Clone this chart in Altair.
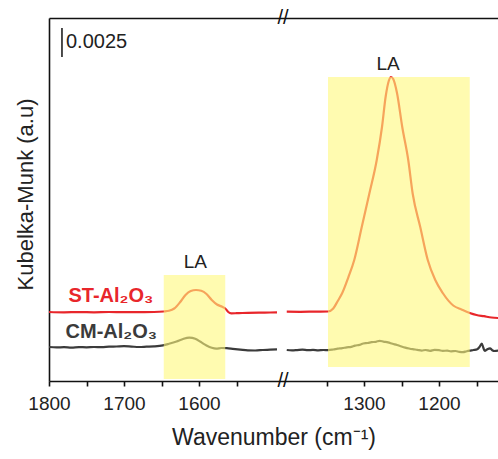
import altair as alt
import pandas as pd

FONT = "Liberation Sans"

# ---------------- data (wavenumber cm-1, Kubelka-Munk a.u.) ----------------
st_left_w = [1800, 1780, 1760, 1740, 1720, 1700, 1680, 1660, 1647, 1640, 1633, 1625, 1618,
             1611, 1604, 1597, 1590, 1583, 1576, 1569, 1565, 1561, 1557, 1550, 1535, 1520,
             1505, 1496]
st_left_y = [0.005948, 0.005922, 0.005940, 0.005922, 0.005948, 0.005931, 0.005940, 0.005948,
             0.005991, 0.006052, 0.006250, 0.006810, 0.007414, 0.007759, 0.007845, 0.007776,
             0.007500, 0.006983, 0.006595, 0.006397, 0.006250, 0.005948, 0.005836, 0.005845,
             0.005879, 0.005897, 0.005905, 0.005914]

st_right_w = [1403, 1385, 1365, 1348, 1341, 1335, 1329, 1321, 1313, 1303, 1293, 1283, 1276,
              1271, 1267, 1264, 1261, 1256, 1249, 1241, 1235, 1225, 1215, 1205, 1195, 1181,
              1170, 1159, 1150, 1140, 1130, 1121]
st_right_y = [0.005974, 0.005966, 0.005983, 0.005991, 0.006250, 0.006897, 0.007586, 0.008922,
              0.010431, 0.013276, 0.016121, 0.019052, 0.021897, 0.024569, 0.025862, 0.026207,
              0.026034, 0.024828, 0.021897, 0.019052, 0.016121, 0.013276, 0.010431, 0.008707,
              0.007586, 0.006509, 0.006164, 0.005862, 0.005690, 0.005586, 0.005474, 0.005431]

cm_left_w = [1800, 1790, 1780, 1770, 1760, 1750, 1740, 1730, 1720, 1710, 1700, 1690, 1680,
             1670, 1660, 1648, 1640, 1630, 1622, 1613, 1605, 1598, 1590, 1583, 1577, 1570,
             1563, 1555, 1545, 1535, 1525, 1515, 1505, 1496]
cm_left_y = [0.002931, 0.002897, 0.002914, 0.002879, 0.002922, 0.002905, 0.002931, 0.002914,
             0.002957, 0.002974, 0.003000, 0.002966, 0.002931, 0.002957, 0.002983, 0.003069,
             0.003207, 0.003405, 0.003603, 0.003741, 0.003638, 0.003379, 0.003060, 0.002862,
             0.002793, 0.002845, 0.002828, 0.002776, 0.002707, 0.002638, 0.002629, 0.002672,
             0.002707, 0.002724]

cm_right_w = [1403, 1396, 1389, 1382, 1375, 1368, 1361, 1354, 1348, 1341, 1335, 1329, 1323,
              1317, 1312, 1306, 1301, 1295, 1290, 1284, 1279, 1274, 1268, 1262, 1256, 1250,
              1245, 1240, 1235, 1229, 1223, 1218, 1212, 1206, 1200, 1195, 1189, 1184, 1178,
              1173, 1168, 1163, 1159, 1154, 1149, 1146, 1143, 1141, 1139, 1136, 1132, 1129,
              1126, 1121]
cm_right_y = [0.002672, 0.002638, 0.002664, 0.002698, 0.002655, 0.002681, 0.002647, 0.002672,
              0.002664, 0.002716, 0.002784, 0.002828, 0.002905, 0.002948, 0.003052, 0.003112,
              0.003233, 0.003276, 0.003345, 0.003379, 0.003466, 0.003397, 0.003328, 0.003207,
              0.003103, 0.002974, 0.002879, 0.002802, 0.002741, 0.002690, 0.002621, 0.002672,
              0.002603, 0.002681, 0.002655, 0.002595, 0.002621, 0.002560, 0.002586, 0.002517,
              0.002483, 0.002569, 0.002621, 0.002672, 0.002741, 0.002931, 0.003233, 0.002888,
              0.002586, 0.002716, 0.002819, 0.002655, 0.002586, 0.002621]

# highlighted "LA" regions
box_w1 = [1647, 1348]
box_w2 = [1565, 1159]
box_y1 = [0.000172, 0.001207]
box_y2 = [0.009138, 0.026207]

# axis ticks (left window / right window)
ticks_left = [1800, 1750, 1700, 1650, 1600, 1550]
ticks_right = [1350, 1300, 1250, 1200, 1150]

# annotations
la_w = [1605, 1268]
la_y = [0.010259, 0.027328]
series_names = ["ST-Al\u2082O\u2083", "CM-Al\u2082O\u2083"]
series_label_w = [1661, 1656]
series_label_y = [0.00681, 0.003707]
scalebar_w = [1782.7]
scalebar_y1 = [0.027931]
scalebar_y2 = [0.030431]
scalebar_text = ["0.0025"]
break_w = [1488, 1488]
break_y = [0.0, 0.031293]

# ---------------- broken-axis mapping ----------------
SHIFT = 80          # cm-1 removed between the two windows
SPLIT = 1450
u_expr = f"datum.w >= {SPLIT} ? datum.w : datum.w + {SHIFT}"
tick_u = ticks_left + [t + SHIFT for t in ticks_right]
label_expr = (f"datum.value > {SPLIT} ? (datum.value % 100 === 0 ? format(datum.value, 'd') : '') : "
              f"((datum.value - {SHIFT}) % 100 === 0 ? format(datum.value - {SHIFT}, 'd') : '')")

rows = []
for name, seg, ws, ys in [("ST", "L", st_left_w, st_left_y), ("ST", "R", st_right_w, st_right_y),
                          ("CM", "L", cm_left_w, cm_left_y), ("CM", "R", cm_right_w, cm_right_y)]:
    for w, y in zip(ws, ys):
        rows.append({"w": w, "km": y, "series": name, "seg": name + seg})
lines_df = pd.DataFrame(rows)

boxes_df = pd.DataFrame({"w1": box_w1, "w2": box_w2, "y1": box_y1, "y2": box_y2})
la_df = pd.DataFrame({"w": la_w, "km": la_y, "t": ["LA", "LA"]})
names_df = pd.DataFrame({"w": series_label_w, "km": series_label_y, "t": series_names,
                         "series": ["ST", "CM"]})
bar_df = pd.DataFrame({"w": scalebar_w, "y1": scalebar_y1, "y2": scalebar_y2, "t": scalebar_text})
break_df = pd.DataFrame({"w": break_w, "km": break_y})

W, H = 449, 363
UMIN = 1800 - W / 0.75
x_scale = alt.Scale(domain=[UMIN, 1800], reverse=True, nice=False, zero=False)
y_scale = alt.Scale(domain=[0, 0.031293], nice=False, zero=False)
color_scale = alt.Scale(domain=["ST", "CM"], range=["#e8262b", "#3b3b3b"])

x_axis = alt.Axis(values=tick_u, labelExpr=label_expr, title="Wavenumber (cm\u207b\u00b9)",
                  grid=False, domainColor="#111", domainWidth=1.6, tickColor="#111",
                  tickWidth=1.6, tickSize=5, labelFontSize=19, labelColor="#222",
                  labelFont=FONT, labelPadding=8, labelFlush=False, labelOverlap=False,
                  titleFont=FONT, titleFontSize=23,
                  titleFontWeight="normal", titleColor="#222", titlePadding=13, zindex=0)
y_axis = alt.Axis(title="Kubelka-Munk (a.u)", ticks=False, labels=False, grid=False,
                  domainColor="#111", domainWidth=1.6, titleFont=FONT, titleFontSize=22,
                  titleFontWeight="normal", titleColor="#222", titlePadding=12, titleY=176,
                  zindex=0)

lines = alt.Chart(lines_df).mark_line(strokeWidth=2.2, clip=True,
                                      interpolate="monotone").transform_calculate(
    u=u_expr
).encode(
    x=alt.X("u:Q", scale=x_scale, axis=x_axis),
    y=alt.Y("km:Q", scale=y_scale, axis=y_axis),
    color=alt.Color("series:N", scale=color_scale, legend=None),
    detail="seg:N",
    order="w:Q",
)

boxes = alt.Chart(boxes_df).mark_rect(color="#fff87b", opacity=0.6).transform_calculate(
    u1=u_expr.replace("datum.w", "datum.w1"), u2=u_expr.replace("datum.w", "datum.w2")
).encode(
    x=alt.X("u1:Q", scale=x_scale, axis=None),
    x2="u2:Q",
    y=alt.Y("y1:Q", scale=y_scale, axis=None),
    y2="y2:Q",
)

la_text = alt.Chart(la_df).mark_text(font=FONT, fontSize=19, color="#222", baseline="middle",
                                     align="center").transform_calculate(u=u_expr).encode(
    x=alt.X("u:Q", scale=x_scale, axis=None),
    y=alt.Y("km:Q", scale=y_scale, axis=None),
    text="t:N",
)

name_text = alt.Chart(names_df).mark_text(font=FONT, fontSize=20, fontWeight="bold",
                                          align="right", baseline="alphabetic").transform_calculate(
    u=u_expr).encode(
    x=alt.X("u:Q", scale=x_scale, axis=None),
    y=alt.Y("km:Q", scale=y_scale, axis=None),
    text="t:N",
    color=alt.Color("series:N", scale=color_scale, legend=None),
)

bar = alt.Chart(bar_df).mark_rule(color="#111", strokeWidth=1.5).encode(
    x=alt.X("w:Q", scale=x_scale, axis=None),
    y=alt.Y("y1:Q", scale=y_scale, axis=None),
    y2="y2:Q",
)
bar_text = alt.Chart(bar_df).mark_text(font=FONT, fontSize=20, color="#222", align="left",
                                       baseline="middle", dx=4).encode(
    x=alt.X("w:Q", scale=x_scale, axis=None),
    y=alt.Y("mid:Q", scale=y_scale, axis=None),
    text="t:N",
).transform_calculate(mid="(datum.y1 + datum.y2) / 2")

breaks = alt.Chart(break_df).mark_text(text="//", font=FONT, fontSize=20, color="#111",
                                       baseline="middle", align="center").encode(
    x=alt.X("w:Q", scale=x_scale,
            axis=alt.Axis(orient="top", labels=False, ticks=False, title=None, grid=False,
                          domainColor="#111", domainWidth=1.6, zindex=0)),
    y=alt.Y("km:Q", scale=y_scale, axis=None),
)

chart = alt.layer(lines, boxes, la_text, name_text, bar, bar_text, breaks).resolve_axis(
    x="independent", y="independent"
).properties(
    width=W, height=H, autosize=alt.AutoSizeParams(type="none"),
    padding={"left": 49, "top": 18, "right": 0, "bottom": 78},
    background="white",
).configure_view(stroke=None)

chart.save("out.html", embed_options={"renderer": "svg", "actions": False})
